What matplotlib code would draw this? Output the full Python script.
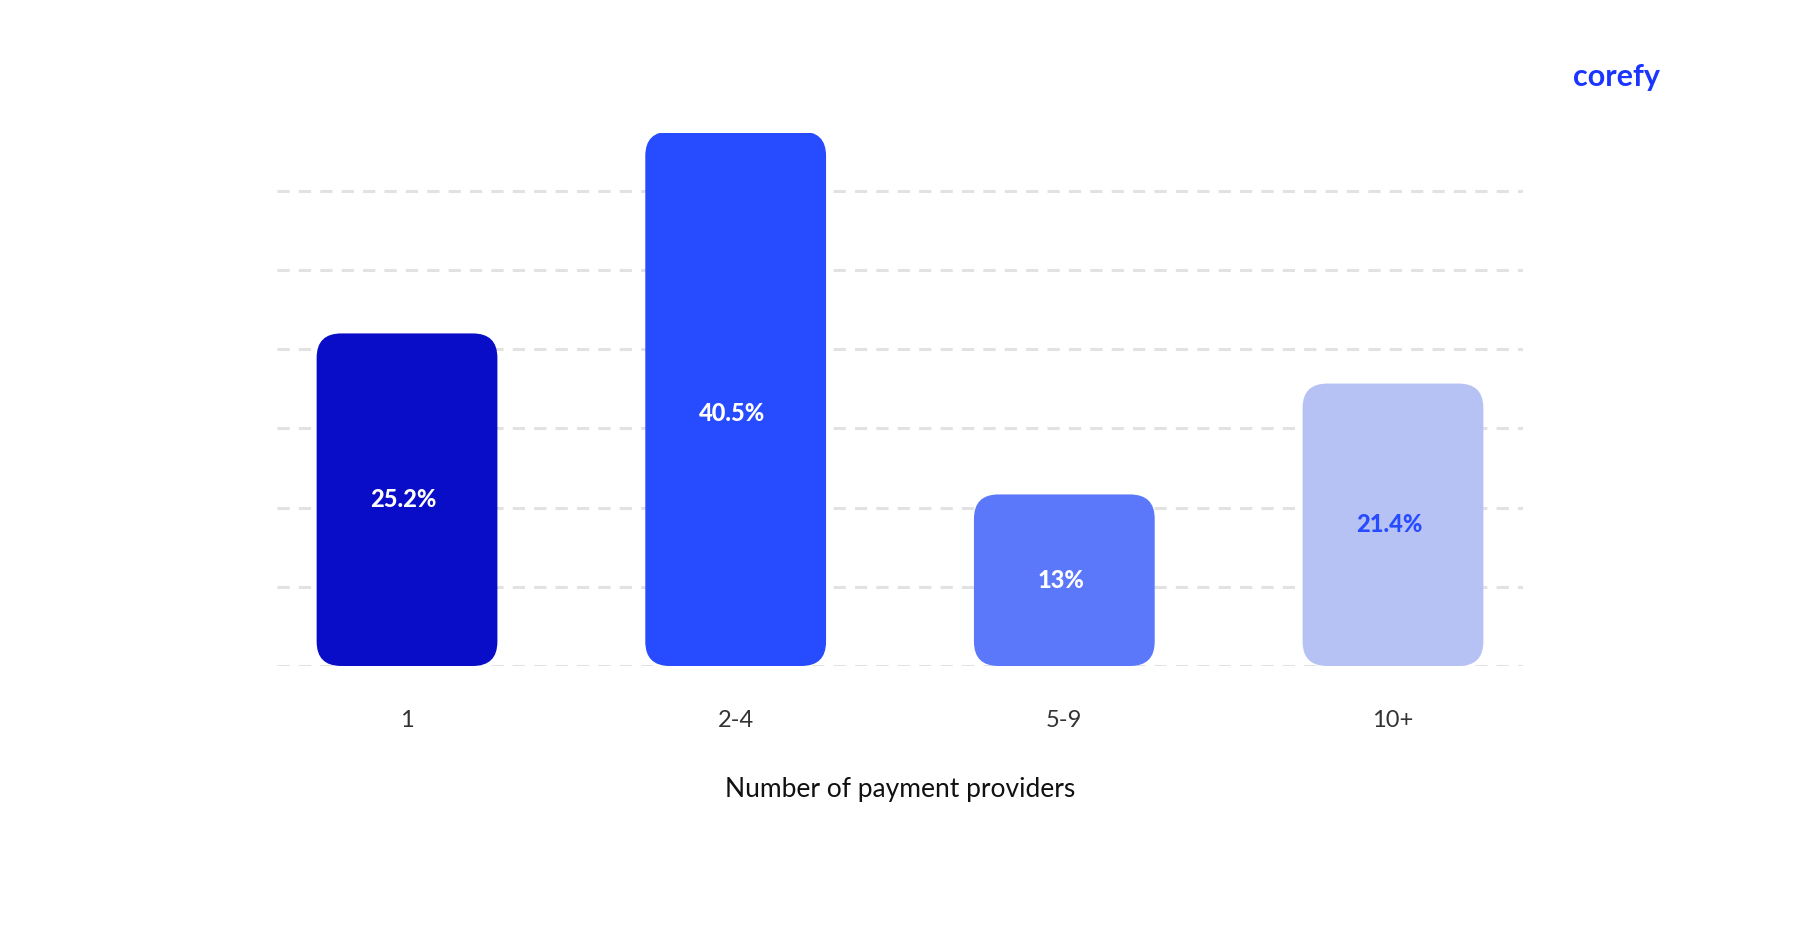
import matplotlib
matplotlib.use("Agg")
import matplotlib.pyplot as plt
from matplotlib.patches import FancyBboxPatch

categories = ["1", "2-4", "5-9", "10+"]
values = [25.2, 40.5, 13, 21.4]
labels = ["25.2%", "40.5%", "13%", "21.4%"]
colors = ["#0a0dc8", "#274bff", "#5b78fb", "#b6c2f4"]
text_colors = ["white", "white", "white", "#274bff"]

plt.rcParams['font.family'] = ['Lato', 'DejaVu Sans']
fig = plt.figure(figsize=(18, 9.42), dpi=100)
ax = fig.add_axes([0.154, 0.293, 0.692, 0.566])
ax.set_xlim(-0.395, 3.395)
ax.set_ylim(0, 40.4)
for g in range(0, 37, 6):
    ax.axhline(g, color="#e2e2e2", lw=2.2, ls=(0, (4, 3)), zorder=0)
w = 0.55
r = 0.075
asp = 24.5
for i, v in enumerate(values):
    p = FancyBboxPatch((i - w/2, 0), w, v, boxstyle=f"round,pad=0,rounding_size={r}",
                       mutation_aspect=asp, fc=colors[i], ec="none", zorder=2)
    ax.add_patch(p)
    ax.text(i - 0.01, v/2 - 1.1 if i == 1 else v/2, labels[i], ha="center", va="center",
            color=text_colors[i], fontsize=17, fontweight=900, zorder=3)
ax.set_xticks(range(4))
ax.set_xticklabels(categories, fontsize=17, color="#333333")
ax.tick_params(axis="x", length=0, pad=32)
ax.set_yticks([])
for s in ax.spines.values():
    s.set_visible(False)
ax.set_xlabel("Number of payment providers", fontsize=19, color="#111111", labelpad=33)
fig.text(0.922, 0.918, "corefy", ha="right", va="center", fontsize=22, fontweight="bold",
         color="#1a35ff")
fig.savefig("out.png", dpi=100, facecolor="white")
